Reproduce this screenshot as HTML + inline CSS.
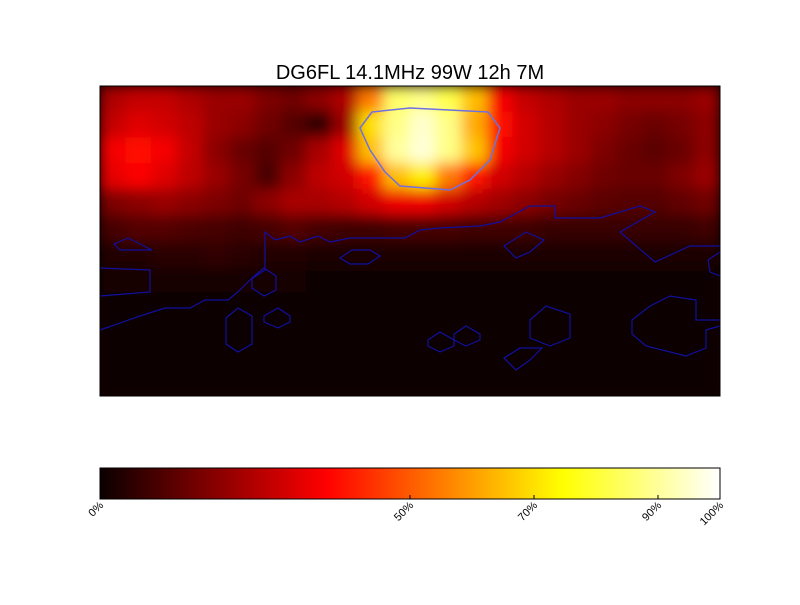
<!DOCTYPE html>
<html><head><meta charset="utf-8"><style>
body{margin:0;background:#fff;font-family:"Liberation Sans",sans-serif}
</style></head><body>
<svg id="chart" width="800" height="600" viewBox="0 0 800 600">
<defs>
<clipPath id="mapclip"><rect x="100" y="86" width="620" height="310"/></clipPath>
<filter id="blur" x="-5%" y="-5%" width="110%" height="110%"><feGaussianBlur stdDeviation="7" edgeMode="duplicate"/></filter>
<linearGradient id="hot" x1="0" x2="1" y1="0" y2="0">
<stop offset="0" stop-color="#0b0000"/><stop offset="0.365" stop-color="#ff0000"/>
<stop offset="0.746" stop-color="#ffff00"/><stop offset="1" stop-color="#ffffff"/>
</linearGradient>
</defs>
<text x="410" y="79" text-anchor="middle" font-size="20">DG6FL 14.1MHz 99W 12h 7M</text>
<g clip-path="url(#mapclip)">
<rect x="100" y="86" width="620" height="310" fill="#0b0000"/>
<g id="cells" filter="url(#blur)"></g>
<g id="contours" fill="none" stroke="#1010a0" stroke-width="1.2"></g>
</g>
<rect x="100" y="86" width="620" height="310" fill="none" stroke="#000"/>
<rect x="100" y="468" width="620" height="31" fill="url(#hot)" stroke="#000"/>
<g id="cbticks" font-size="11"></g>
</svg>
<script>
const rowsPct = [
[25,28,28,25,22,22,18,16,20,25,55,85,88,82,65,35,28,25,22,22,20,20,20,22],
[28,32,30,27,22,20,16,12,6,22,70,88,95,88,62,38,30,26,22,20,17,15,17,20],
[35,38,35,28,20,15,12,16,24,32,65,90,96,88,66,35,30,26,22,18,15,13,15,20],
[33,36,32,27,22,17,10,20,27,30,40,65,72,55,40,30,26,22,19,16,15,15,18,22],
[18,20,22,20,18,16,20,24,24,26,30,34,34,30,26,23,20,17,15,13,12,12,14,16],
[10,12,12,11,10,9,10,12,10,9,9,10,10,10,9,9,9,8,8,8,8,8,8,9],
[5,5,6,6,7,6,5,5,4,4,4,4,4,4,4,4,4,4,4,4,4,4,4,4],
[3,3,3,3,3,3,3,3,2,2,2,2,2,2,2,2,2,2,2,2,2,2,2,2],
[2,2,2,2,2,2,2,2,2,2,2,2,2,2,2,2,2,2,2,2,2,2,2,2],
[1,1,1,1,1,1,1,1,1,1,1,1,1,1,1,1,1,1,1,1,1,1,1,1],
[1,1,1,1,1,1,1,1,1,1,1,1,1,1,1,1,1,1,1,1,1,1,1,1],
[1,1,1,1,1,1,1,1,1,1,1,1,1,1,1,1,1,1,1,1,1,1,1,1]
];
const tickValues = [0,50,70,90,100];
const tickLabels = ["0%","50%","70%","90%","100%"];
const NS="http://www.w3.org/2000/svg";
const X0=100,Y0=86,W=620,H=310;
function hot(p){let t=p/100;let r=Math.min(1,t/0.365),g=Math.max(0,Math.min(1,(t-0.365)/0.381)),b=Math.max(0,Math.min(1,(t-0.746)/0.254));
r=Math.max(r,0.043);return `rgb(${Math.round(r*255)},${Math.round(g*255)},${Math.round(b*255)})`;}
const cells=document.getElementById('cells');
const nr=rowsPct.length,nc=rowsPct[0].length,cw=W/nc,ch=H/nr;
rowsPct.forEach((row,i)=>row.forEach((v,j)=>{
 const r=document.createElementNS(NS,'rect');
 r.setAttribute('x',X0+j*cw-0.5);r.setAttribute('y',Y0+i*ch-0.5);
 r.setAttribute('width',cw+1);r.setAttribute('height',ch+1);r.setAttribute('fill',hot(v));
 
 
 cells.appendChild(r);
}));
const contourPaths=[
"M100,330 L140,316 L165,308 L190,308 L205,300 L228,300 L240,290 L250,280 L265,270 L265,232 L275,240 L290,236 L300,242 L318,236 L330,242 L350,238 L405,238 L420,230 L440,228 L480,226 L500,222 L530,206 L555,206 L555,218 L570,218 L600,218 L640,206 L655,212 L620,232 L655,262 L690,246 L720,246",
"M100,296 L150,292 L150,270 L100,268",
"M114,244 L128,238 L152,250 L120,250 Z",
"M340,258 L352,250 L370,250 L380,256 L368,264 L350,264 Z",
"M252,278 L264,268 L276,276 L276,290 L264,296 L252,288 Z",
"M226,318 L238,308 L252,316 L252,344 L238,352 L226,344 Z",
"M264,316 L278,308 L290,316 L290,322 L278,328 L264,322 Z",
"M428,340 L440,332 L454,340 L454,346 L440,352 L428,346 Z",
"M454,334 L466,326 L480,334 L480,340 L466,346 L454,340 Z",
"M504,358 L520,348 L542,348 L530,360 L516,370 Z",
"M530,320 L546,306 L570,314 L570,338 L550,346 L530,338 Z",
"M504,246 L526,232 L544,240 L530,252 L516,258 Z",
"M720,320 L696,320 L696,300 L670,296 L650,306 L632,320 L632,334 L646,346 L686,356 L706,348 L706,330 L720,326",
"M720,252 L708,260 L710,272 L720,276",
"M360,128 L372,112 L410,108 L488,112 L500,128 L490,160 L470,180 L450,190 L400,186 L385,172 L370,150 Z"
];
const cg=document.getElementById('contours');
contourPaths.forEach((d,i)=>{const p=document.createElementNS(NS,'path');p.setAttribute('d',d);
 if(i===contourPaths.length-1){p.setAttribute('stroke','#7070e0');p.setAttribute('stroke-width','1.5');}
 
 
 cg.appendChild(p);});
const tg=document.getElementById('cbticks');
tickValues.forEach((v,i)=>{const x=X0+v/100*W;
 const l=document.createElementNS(NS,'line');l.setAttribute('x1',x);l.setAttribute('x2',x);l.setAttribute('y1',495);l.setAttribute('y2',499);l.setAttribute('stroke','#000');
 
 
 tg.appendChild(l);
 const t=document.createElementNS(NS,'text');t.setAttribute('x',x+4);t.setAttribute('y',506);t.setAttribute('text-anchor','end');
 t.setAttribute('transform',`rotate(-45 ${x+4} 506)`);t.textContent=tickLabels[i];
 
 
 tg.appendChild(t);});
</script>
</body></html>
